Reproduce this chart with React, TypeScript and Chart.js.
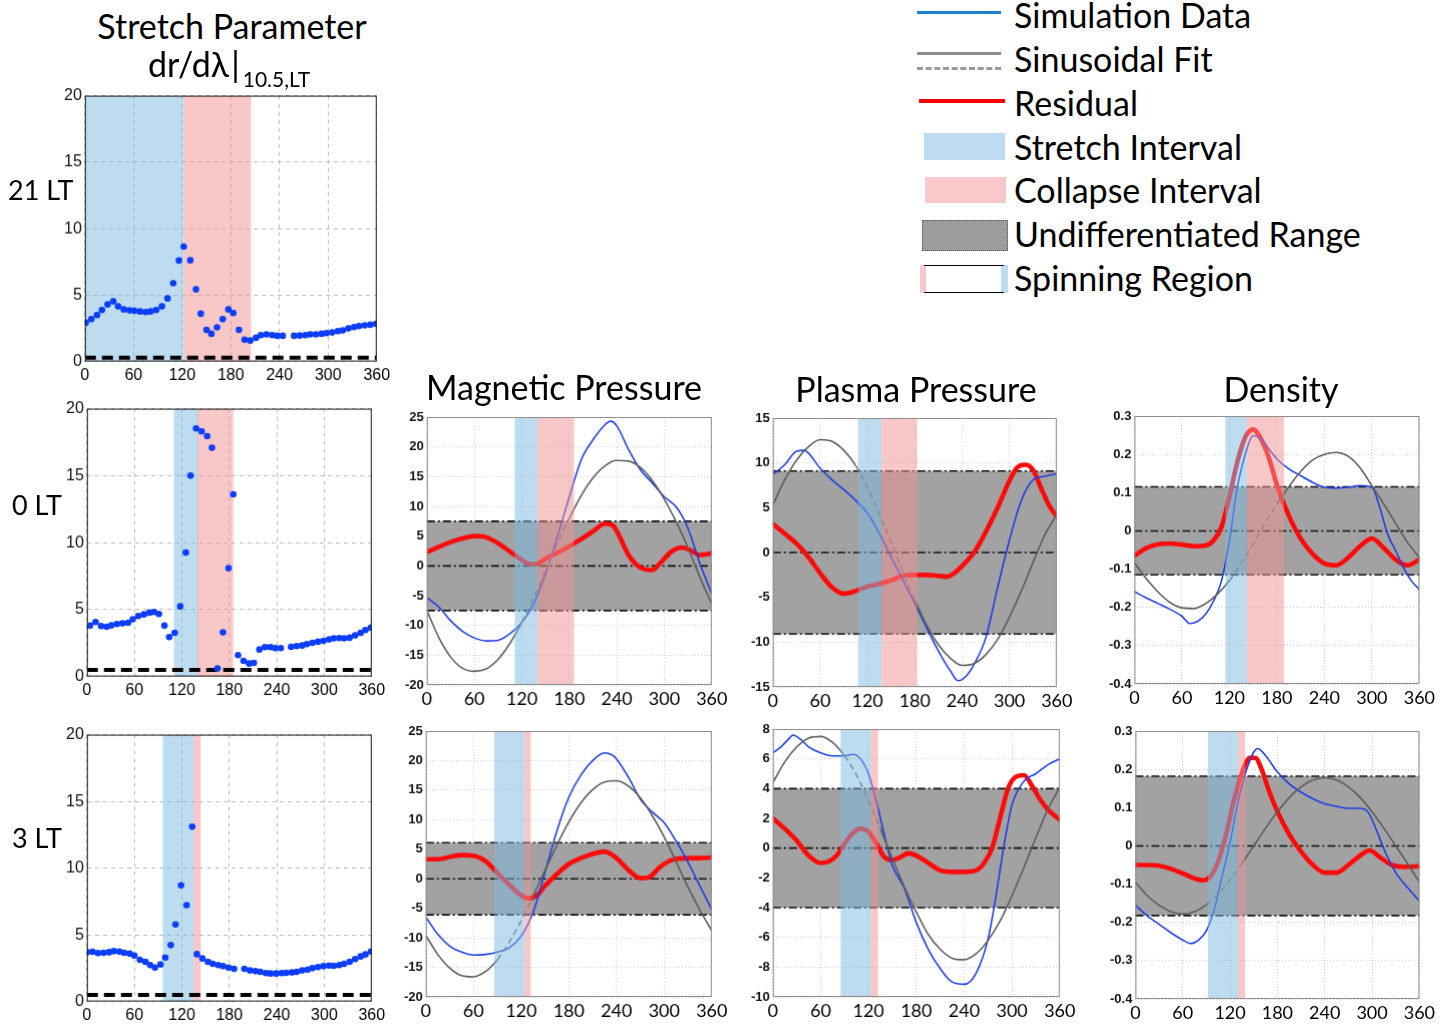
import React, { useEffect, useRef } from 'react';
import { Chart, registerables } from 'chart.js';
Chart.register(...registerables);

// ---------------- data ----------------
// Stretch parameter dr/dλ (dots)
const DR21_X = [1,8,15,21,28,35,41,48,55,61,68,75,81,88,95,102,109,116,122,130,137,143,150,156,163,170,177,183,190,197,204,211,217,224,231,237,244,258,265,272,278,285,292,298,305,312,318,325,332,338,345,352,359];
const DR21_Y = [2.92,3.19,3.5,3.87,4.3,4.53,4.15,3.92,3.85,3.82,3.77,3.72,3.77,3.87,4.15,4.75,5.89,7.6,8.65,7.62,5.43,3.6,2.39,2.09,2.57,3.19,3.92,3.65,2.39,1.64,1.58,1.79,1.99,2.04,1.99,1.94,1.94,1.94,1.96,1.99,2.04,2.04,2.09,2.14,2.19,2.29,2.34,2.49,2.59,2.67,2.72,2.77,2.84];
const DR0_X = [4,11,18,25,31,38,45,52,58,65,72,79,85,91,98,104,111,118,125,131,138,145,152,158,165,172,179,185,191,198,205,211,218,225,232,238,245,258,265,272,278,285,292,299,306,312,319,325,332,339,346,352,359];
const DR0_Y = [3.8,4.07,3.77,3.72,3.82,3.92,3.97,4.02,4.27,4.52,4.64,4.77,4.82,4.67,3.8,2.95,3.27,5.24,9.26,15.0,18.53,18.3,17.95,17.08,0.6,3.3,8.09,13.6,1.6,1.17,0.97,1.02,2.02,2.2,2.2,2.12,2.12,2.22,2.27,2.32,2.42,2.52,2.6,2.67,2.77,2.85,2.87,2.85,2.9,3.07,3.27,3.47,3.65];
const DR3_X = [0,7,14,21,28,34,41,47,54,60,67,74,80,86,93,99,106,112,119,126,133,139,146,153,159,166,172,179,186,199,206,213,219,226,232,239,246,252,259,265,272,279,285,292,299,306,312,319,325,332,339,346,352,359];
const DR3_Y = [3.7,3.73,3.63,3.65,3.7,3.78,3.75,3.65,3.6,3.45,3.13,2.98,2.73,2.55,2.78,3.3,4.23,5.78,8.71,7.23,13.1,3.55,3.23,2.98,2.83,2.73,2.65,2.55,2.45,2.45,2.33,2.28,2.23,2.13,2.1,2.1,2.13,2.15,2.18,2.23,2.33,2.4,2.5,2.58,2.65,2.7,2.68,2.73,2.83,2.98,3.18,3.38,3.53,3.75];
const THRESHOLD = [0.3, 0.5, 0.5];

// Magnetic pressure, 0 LT
const MP0_SIM = [[0,-5.3],[15,-6.9],[30,-9.2],[45,-11],[60,-12.1],[75,-12.6],[90,-12.5],[105,-11.4],[120,-9.5],[135,-6.4],[150,-1.3],[165,4.9],[180,11.6],[195,17.8],[210,21.2],[225,23.7],[232,24.3],[240,23.5],[255,19.5],[270,16.1],[285,13.9],[300,11.6],[315,9.9],[330,6.3],[345,0.4],[360,-4.7]];
const MP0_FIT = [[0,-7.5],[15,-12],[30,-15.3],[45,-17.2],[60,-17.7],[75,-17.3],[90,-15.7],[105,-13],[120,-9.5],[135,-5.3],[150,-0.8],[165,3.8],[180,8],[195,11.8],[210,14.8],[225,16.8],[240,17.7],[255,17.6],[270,16.5],[285,14.3],[300,11.2],[315,7.4],[330,3],[345,-1.9],[360,-6.4]];
const MP0_RES = [[0,2.3],[15,3.2],[30,4],[45,4.6],[60,5],[75,4.8],[90,3.8],[105,2.4],[120,1],[130,0.3],[140,0.4],[150,1.2],[165,2.2],[180,3.3],[195,4.5],[210,5.8],[225,7.1],[235,6.8],[245,4.5],[255,1.8],[270,-0.3],[285,-0.7],[295,0.5],[310,2.5],[322,3.1],[335,2.5],[345,1.8],[360,2.1]];
// Plasma pressure, 0 LT
const PP0_SIM = [[0,8.7],[15,9.8],[30,11.3],[40,11.4],[45,11.1],[60,9.4],[75,8.1],[90,7],[105,5.8],[120,4.4],[135,2.1],[150,-0.5],[165,-3.1],[180,-5.7],[195,-8.4],[210,-11],[225,-13.2],[235,-14.3],[245,-13.8],[255,-12.5],[270,-9.5],[285,-3.9],[300,1.4],[315,5.8],[330,8.1],[345,8.5],[360,8.8]];
const PP0_FIT = [[0,5.3],[15,8.1],[30,10.3],[45,11.8],[60,12.6],[75,12.4],[90,11.4],[105,9.7],[120,7.2],[135,4.3],[150,1.1],[165,-2.2],[180,-5.3],[195,-8.1],[210,-10.3],[225,-11.8],[240,-12.6],[255,-12.4],[270,-11.4],[285,-9.7],[300,-7.2],[315,-4.3],[330,-1.1],[345,2],[360,4.2]];
const PP0_RES = [[0,3.2],[15,2.1],[30,1],[45,-0.5],[60,-2.3],[75,-3.9],[90,-4.6],[105,-4.3],[120,-3.8],[135,-3.5],[150,-3.1],[165,-2.6],[180,-2.5],[195,-2.5],[210,-2.6],[220,-2.7],[230,-2.3],[240,-1.5],[255,0],[270,2.3],[285,5],[300,8],[310,9.5],[320,9.8],[330,9.2],[340,7.2],[350,5.3],[360,4]];
// Density, 0 LT
const D0_SIM = [[0,-0.159],[15,-0.175],[30,-0.19],[45,-0.205],[60,-0.223],[70,-0.242],[80,-0.236],[90,-0.218],[100,-0.183],[110,-0.131],[120,-0.026],[130,0.114],[140,0.2],[150,0.249],[160,0.24],[170,0.214],[180,0.188],[195,0.162],[210,0.144],[225,0.127],[240,0.114],[255,0.112],[270,0.114],[285,0.118],[300,0.114],[310,0.061],[320,-0.009],[330,-0.052],[340,-0.096],[350,-0.131],[360,-0.153]];
const D0_FIT = [[0,-0.083],[15,-0.125],[30,-0.16],[45,-0.187],[60,-0.201],[75,-0.203],[90,-0.19],[105,-0.165],[120,-0.13],[135,-0.085],[150,-0.035],[165,0.02],[180,0.07],[195,0.115],[210,0.155],[225,0.185],[240,0.2],[255,0.205],[270,0.195],[285,0.165],[300,0.118],[315,0.07],[330,0.02],[345,-0.03],[360,-0.07]];
const D0_RES = [[0,-0.065],[15,-0.045],[30,-0.035],[45,-0.033],[60,-0.036],[75,-0.04],[90,-0.038],[100,-0.025],[110,0.01],[120,0.09],[130,0.18],[140,0.245],[150,0.265],[160,0.24],[170,0.19],[180,0.12],[195,0.04],[210,-0.02],[225,-0.06],[240,-0.085],[255,-0.09],[270,-0.07],[285,-0.04],[300,-0.02],[315,-0.045],[330,-0.075],[345,-0.09],[360,-0.075]];
// Magnetic pressure, 3 LT
const MP3_SIM = [[0,-6.5],[15,-9.4],[30,-11.4],[45,-12.4],[60,-12.9],[75,-12.8],[90,-12.4],[105,-11.7],[120,-9.7],[135,-5.7],[150,1.1],[165,8.1],[180,13.8],[195,17.5],[210,20],[225,21.3],[235,20.9],[240,20.3],[255,17.2],[270,13.5],[285,11.3],[300,9.5],[315,6.4],[330,2.8],[345,-1.2],[360,-5.2]];
const MP3_FIT = [[0,-9.6],[15,-12.8],[30,-15.1],[45,-16.4],[60,-16.6],[75,-15.7],[90,-13.7],[105,-10.7],[120,-7.1],[135,-2.9],[150,1.4],[165,5.7],[180,9.6],[195,12.8],[210,15.1],[225,16.4],[240,16.6],[255,15.7],[270,13.7],[285,10.7],[300,7.1],[315,2.9],[330,-1.4],[345,-5.3],[360,-8.8]];
const MP3_RES = [[0,3.3],[15,3.3],[30,3.7],[45,4],[60,3.9],[75,3],[90,1],[105,-1],[120,-2.8],[130,-3.3],[140,-2.8],[150,-1.2],[165,0.8],[180,2.5],[195,3.5],[210,4.2],[225,4.6],[240,3.5],[255,1.5],[270,0.1],[280,0.2],[295,2],[310,3.2],[330,3.5],[345,3.5],[360,3.6]];
// Plasma pressure, 3 LT
const PP3_SIM = [[0,6.4],[10,6.8],[20,7.35],[25,7.6],[35,7.3],[45,6.8],[60,6.4],[75,6.2],[90,6.2],[100,6.3],[110,6],[120,5],[130,3.1],[140,0.87],[150,-1.16],[165,-2.7],[180,-5],[195,-6.8],[210,-8.1],[225,-9],[240,-9.15],[255,-8.4],[270,-6.1],[280,-3.2],[290,0.2],[300,2.9],[315,4.5],[330,5],[345,5.6],[360,6]];
const PP3_FIT = [[0,4.4],[15,5.8],[30,6.8],[45,7.4],[60,7.5],[75,7.1],[90,6.2],[105,4.9],[120,3.2],[135,1.3],[150,-0.7],[165,-2.6],[180,-4.3],[195,-5.8],[210,-6.8],[225,-7.4],[240,-7.5],[255,-7.1],[270,-6.2],[285,-4.9],[300,-3.2],[315,-1.3],[330,0.7],[345,2.6],[360,4.1]];
const PP3_RES = [[0,2],[15,1.3],[30,0.5],[45,-0.5],[60,-1],[70,-0.9],[80,-0.5],[90,0.3],[100,1],[110,1.3],[120,1.1],[130,0.3],[140,-0.6],[150,-0.8],[160,-0.6],[170,-0.35],[180,-0.5],[195,-1],[210,-1.5],[225,-1.6],[240,-1.6],[255,-1.5],[265,-1],[275,0],[285,2],[295,4],[305,4.8],[315,4.9],[325,4.2],[335,3.3],[345,2.6],[360,1.9]];
// Density, 3 LT
const D3_SIM = [[0,-0.155],[15,-0.183],[30,-0.205],[45,-0.227],[60,-0.246],[70,-0.255],[80,-0.246],[90,-0.222],[100,-0.166],[110,-0.078],[120,0.009],[130,0.114],[140,0.193],[150,0.245],[155,0.254],[165,0.236],[180,0.193],[195,0.162],[210,0.14],[225,0.123],[240,0.11],[255,0.103],[270,0.098],[285,0.098],[295,0.088],[305,0.044],[315,-0.008],[330,-0.07],[345,-0.109],[360,-0.144]];
const D3_FIT = [[0,-0.095],[15,-0.13],[30,-0.155],[45,-0.172],[60,-0.178],[75,-0.172],[90,-0.154],[105,-0.126],[120,-0.089],[135,-0.046],[150,0],[165,0.046],[180,0.089],[195,0.126],[210,0.154],[225,0.172],[240,0.178],[255,0.172],[270,0.154],[285,0.126],[300,0.089],[315,0.046],[330,0],[345,-0.046],[360,-0.095]];
const D3_RES = [[0,-0.05],[15,-0.05],[30,-0.052],[45,-0.06],[60,-0.072],[75,-0.085],[85,-0.09],[95,-0.08],[105,-0.04],[115,0.03],[125,0.12],[135,0.19],[145,0.23],[152,0.23],[160,0.2],[170,0.14],[180,0.09],[195,0.03],[210,-0.015],[225,-0.05],[240,-0.07],[255,-0.07],[270,-0.05],[285,-0.025],[297,-0.012],[310,-0.03],[325,-0.05],[340,-0.055],[360,-0.053]];

// intervals [start, end] in degrees
const STRETCH = { dr21: [0, 122], dr0: [110, 141], dr3: [96, 135], mp0: [111, 140], pp0: [108, 138], d0: [115, 142], mp3: [86, 124], pp3: [85, 123], d3: [92, 130] };
const COLLAPSE = { dr21: [122, 205], dr0: [140, 185], dr3: [135, 144], mp0: [140, 186], pp0: [138, 183], d0: [142, 189], mp3: [124, 132], pp3: [123, 132], d3: [130, 139] };
const FIT_DASH = { mp0: [115, 182], pp0: [108, 187], d0: [118, 186], mp3: [88, 130], pp3: [88, 130], d3: [95, 140] };
const UNDIFF = { mp0: 7.5, pp0: 9.1, d0: 0.115, mp3: 6.1, pp3: 4.0, d3: 0.182 };

const X_TICKS = { min: 0, max: 360, step: 60 };

// ---------------- drawing ----------------
const LABEL_FONT = 'Lato, "Open Sans", sans-serif';
const STRETCH_COLOR = 'rgba(125,185,225,0.5)';
const COLLAPSE_COLOR = 'rgba(241,145,145,0.5)';

type Box = [number, number, number, number];
interface Spec {
  box: Box;
  kind: 'dots' | 'lines';
  yMin: number; yMax: number; yStep: number;
  stretch: number[]; collapse: number[];
  dotsX?: number[]; dotsY?: number[]; threshold?: number;
  sim?: number[][]; fit?: number[][]; res?: number[][];
  undiff?: number; fitDash?: number[];
}

function drawIntervals(chart: any, spec: Spec) {
  const { ctx, chartArea: a, scales } = chart;
  const x = scales.x;
  ctx.save();
  ctx.beginPath();
  ctx.rect(a.left, a.top, a.right - a.left, a.bottom - a.top);
  ctx.clip();
  const s0 = x.getPixelForValue(spec.stretch[0]);
  const s1 = x.getPixelForValue(spec.stretch[1]);
  ctx.fillStyle = STRETCH_COLOR;
  ctx.fillRect(s0, a.top, s1 - s0, a.bottom - a.top);
  const c0 = x.getPixelForValue(spec.collapse[0]);
  const c1 = x.getPixelForValue(spec.collapse[1]);
  ctx.fillStyle = COLLAPSE_COLOR;
  ctx.fillRect(c0, a.top, c1 - c0, a.bottom - a.top);
  ctx.restore();
}

const panelPlugin = {
  id: 'panelDeco',
  beforeDatasetsDraw(chart: any, _args: any, opts: any) {
    const spec: Spec = opts.spec;
    if (!spec) return;
    const { ctx, chartArea: a, scales } = chart;
    if (spec.kind === 'dots') {
      drawIntervals(chart, spec);
      return;
    }
    const y = scales.y;
    const u = spec.undiff as number;
    const y1 = y.getPixelForValue(u);
    const y2 = y.getPixelForValue(-u);
    ctx.save();
    ctx.fillStyle = '#a2a2a2';
    ctx.fillRect(a.left, y1, a.right - a.left, y2 - y1);
    ctx.strokeStyle = '#111';
    ctx.lineWidth = 1.6;
    ctx.setLineDash([8, 3, 2, 3]);
    for (const v of [u, 0, -u]) {
      const py = y.getPixelForValue(v);
      ctx.beginPath();
      ctx.moveTo(a.left, py);
      ctx.lineTo(a.right, py);
      ctx.stroke();
    }
    ctx.restore();
  },
  afterDatasetsDraw(chart: any, _args: any, opts: any) {
    const spec: Spec = opts.spec;
    if (!spec) return;
    if (spec.kind === 'lines') drawIntervals(chart, spec);
  },
  afterDraw(chart: any, _args: any, opts: any) {
    const spec: Spec = opts.spec;
    if (!spec) return;
    const { ctx, chartArea: a } = chart;
    ctx.save();
    ctx.strokeStyle = spec.kind === 'dots' ? '#1a1a1a' : '#8a8a8a';
    ctx.lineWidth = 1;
    ctx.strokeRect(a.left + 0.5, a.top + 0.5, a.right - a.left - 1, a.bottom - a.top - 1);
    ctx.restore();
  },
};

function fmt(v: number) {
  return String(Number(v.toFixed(2)));
}

function buildConfig(spec: Spec): any {
  const dots = spec.kind === 'dots';
  const datasets: any[] = [];
  if (dots) {
    const xs = spec.dotsX as number[];
    const ys = spec.dotsY as number[];
    datasets.push({
      data: xs.map((x, i) => ({ x, y: ys[i] })),
      showLine: false,
      pointRadius: 3.3,
      pointBackgroundColor: '#0b3dfb',
      pointBorderWidth: 0,
    });
    datasets.push({
      data: [{ x: 0, y: spec.threshold }, { x: 360, y: spec.threshold }],
      borderColor: '#000',
      borderWidth: 4,
      borderDash: [11, 6],
      pointRadius: 0,
    });
  } else {
    const fd = spec.fitDash as number[];
    const inDash = (c: any) => {
      const m = (c.p0.parsed.x + c.p1.parsed.x) / 2;
      return m > fd[0] && m < fd[1];
    };
    datasets.push({
      data: (spec.fit as number[][]).map(([x, y]) => ({ x, y })),
      borderColor: '#5e5e5e',
      borderWidth: 1.6,
      pointRadius: 0,
      cubicInterpolationMode: 'monotone',
      segment: {
        borderDash: (c: any) => (inDash(c) ? [6, 4] : undefined),
        borderColor: (c: any) => (inDash(c) ? '#707070' : undefined),
      },
    });
    datasets.push({
      data: (spec.sim as number[][]).map(([x, y]) => ({ x, y })),
      borderColor: '#1f3fe6',
      borderWidth: 1.6,
      pointRadius: 0,
      cubicInterpolationMode: 'monotone',
    });
    datasets.push({
      data: (spec.res as number[][]).map(([x, y]) => ({ x, y })),
      borderColor: '#ff0a0a',
      borderWidth: 4.6,
      pointRadius: 0,
      cubicInterpolationMode: 'monotone',
      borderCapStyle: 'round',
    });
  }
  const gridColor = dots ? '#b9b9b9' : '#cdcdcd';
  const gridDash = dots ? [4, 4] : [1, 2];
  return {
    type: 'line',
    data: { datasets },
    options: {
      animation: false,
      responsive: false,
      maintainAspectRatio: false,
      events: [],
      layout: { padding: { top: 12, right: 26, left: 2, bottom: 2 } },
      plugins: {
        legend: { display: false },
        tooltip: { enabled: false },
        panelDeco: { spec },
      },
      scales: {
        x: {
          type: 'linear',
          min: X_TICKS.min,
          max: X_TICKS.max,
          ticks: {
            stepSize: X_TICKS.step,
            autoSkip: false,
            maxRotation: 0,
            minRotation: 0,
            color: '#000',
            padding: dots ? 4 : 3,
            font: dots
              ? { family: '"Liberation Sans", Arial, sans-serif', size: 16 }
              : { family: LABEL_FONT, size: 18 },
          },
          grid: { color: gridColor, drawTicks: false, lineWidth: 1 },
          border: { display: false, dash: gridDash },
        },
        y: {
          type: 'linear',
          min: spec.yMin,
          max: spec.yMax,
          ticks: {
            stepSize: spec.yStep,
            autoSkip: false,
            color: '#111',
            padding: 3,
            callback: (v: number) => fmt(v),
            font: dots
              ? { family: '"Liberation Sans", Arial, sans-serif', size: 16 }
              : { family: '"Liberation Sans", Arial, sans-serif', size: 13, weight: 'bold' },
          },
          grid: { color: gridColor, drawTicks: false, lineWidth: 1 },
          border: { display: false, dash: gridDash },
        },
      },
    },
    plugins: [panelPlugin],
  };
}

function Panel({ spec }: { spec: Spec }) {
  const wrapRef = useRef<HTMLDivElement>(null);
  const canvasRef = useRef<HTMLCanvasElement>(null);
  useEffect(() => {
    const canvas = canvasRef.current as HTMLCanvasElement;
    const wrap = wrapRef.current as HTMLDivElement;
    const [L, T, R, B] = spec.box;
    const w0 = R - L + 80;
    const h0 = B - T + 50;
    canvas.width = w0;
    canvas.height = h0;
    canvas.style.width = w0 + 'px';
    canvas.style.height = h0 + 'px';
    const chart = new Chart(canvas, buildConfig(spec));
    for (let k = 0; k < 3; k++) {
      const ca = chart.chartArea;
      const dw = (R - L) - (ca.right - ca.left);
      const dh = (B - T) - (ca.bottom - ca.top);
      if (Math.abs(dw) < 0.01 && Math.abs(dh) < 0.01) break;
      chart.resize(chart.width + dw, chart.height + dh);
    }
    const ca = chart.chartArea;
    wrap.style.left = L - ca.left + 'px';
    wrap.style.top = T - ca.top + 'px';
    return () => chart.destroy();
  }, [spec]);
  return (
    <div ref={wrapRef} style={{ position: 'absolute', left: 0, top: 0 }}>
      <canvas ref={canvasRef} />
    </div>
  );
}

const SPECS: Spec[] = [
  { box: [85, 96, 376, 361], kind: 'dots', yMin: 0, yMax: 20, yStep: 5, stretch: STRETCH.dr21, collapse: COLLAPSE.dr21, dotsX: DR21_X, dotsY: DR21_Y, threshold: THRESHOLD[0] },
  { box: [87, 409, 371, 676], kind: 'dots', yMin: 0, yMax: 20, yStep: 5, stretch: STRETCH.dr0, collapse: COLLAPSE.dr0, dotsX: DR0_X, dotsY: DR0_Y, threshold: THRESHOLD[1] },
  { box: [87, 735, 371, 1001], kind: 'dots', yMin: 0, yMax: 20, yStep: 5, stretch: STRETCH.dr3, collapse: COLLAPSE.dr3, dotsX: DR3_X, dotsY: DR3_Y, threshold: THRESHOLD[2] },
  { box: [427, 417, 711, 684], kind: 'lines', yMin: -20, yMax: 25, yStep: 5, stretch: STRETCH.mp0, collapse: COLLAPSE.mp0, sim: MP0_SIM, fit: MP0_FIT, res: MP0_RES, undiff: UNDIFF.mp0, fitDash: FIT_DASH.mp0 },
  { box: [773, 418, 1056, 686], kind: 'lines', yMin: -15, yMax: 15, yStep: 5, stretch: STRETCH.pp0, collapse: COLLAPSE.pp0, sim: PP0_SIM, fit: PP0_FIT, res: PP0_RES, undiff: UNDIFF.pp0, fitDash: FIT_DASH.pp0 },
  { box: [1134, 416, 1419, 683], kind: 'lines', yMin: -0.4, yMax: 0.3, yStep: 0.1, stretch: STRETCH.d0, collapse: COLLAPSE.d0, sim: D0_SIM, fit: D0_FIT, res: D0_RES, undiff: UNDIFF.d0, fitDash: FIT_DASH.d0 },
  { box: [426, 731, 711, 996], kind: 'lines', yMin: -20, yMax: 25, yStep: 5, stretch: STRETCH.mp3, collapse: COLLAPSE.mp3, sim: MP3_SIM, fit: MP3_FIT, res: MP3_RES, undiff: UNDIFF.mp3, fitDash: FIT_DASH.mp3 },
  { box: [773, 729, 1059, 996], kind: 'lines', yMin: -10, yMax: 8, yStep: 2, stretch: STRETCH.pp3, collapse: COLLAPSE.pp3, sim: PP3_SIM, fit: PP3_FIT, res: PP3_RES, undiff: UNDIFF.pp3, fitDash: FIT_DASH.pp3 },
  { box: [1135, 731, 1419, 998], kind: 'lines', yMin: -0.4, yMax: 0.3, yStep: 0.1, stretch: STRETCH.d3, collapse: COLLAPSE.d3, sim: D3_SIM, fit: D3_FIT, res: D3_RES, undiff: UNDIFF.d3, fitDash: FIT_DASH.d3 },
];

function Label({ text, x, y, size, align = 'left' }: { text: React.ReactNode; x: number; y: number; size: number; align?: 'left' | 'center' }) {
  return (
    <div
      style={{
        position: 'absolute',
        left: x,
        top: y,
        fontSize: size,
        lineHeight: 1,
        whiteSpace: 'nowrap',
        color: '#000',
        transform: align === 'center' ? 'translate(-50%,-50%)' : 'translateY(-50%)',
      }}
    >
      {text}
    </div>
  );
}

const LEGEND_LABELS = ['Simulation Data', 'Sinusoidal Fit', 'Residual', 'Stretch Interval', 'Collapse Interval', 'Undifferentiated Range', 'Spinning Region'];
const LEGEND_Y = [15, 59, 103, 147, 190, 234, 278];

function Legend() {
  const abs = (s: React.CSSProperties): React.CSSProperties => ({ position: 'absolute', ...s });
  return (
    <>
      <div style={abs({ left: 917, top: 11, width: 84, height: 3, background: '#1f7fcf' })} />
      <div style={abs({ left: 917, top: 52, width: 84, height: 3, background: '#8c8c8c' })} />
      <div style={abs({ left: 917, top: 67, width: 84, height: 0, borderTop: '3px dashed #9a9a9a' })} />
      <div style={abs({ left: 919, top: 99, width: 86, height: 4, background: '#ff0000' })} />
      <div style={abs({ left: 924, top: 133, width: 81, height: 27, background: 'rgb(190,220,240)' })} />
      <div style={abs({ left: 925, top: 177, width: 81, height: 26, background: 'rgb(248,200,202)' })} />
      <div style={abs({ left: 922, top: 220, width: 86, height: 31, background: '#9c9c9c', boxSizing: 'border-box', border: '1px dotted #555' })} />
      <div style={abs({ left: 920, top: 265, width: 6, height: 28, background: 'rgb(248,200,202)' })} />
      <div style={abs({ left: 1001, top: 265, width: 7, height: 28, background: 'rgb(190,220,240)' })} />
      <div style={abs({ left: 924, top: 265, width: 80, height: 28, boxSizing: 'border-box', borderTop: '1.5px solid #000', borderBottom: '1.5px solid #000' })} />
      {LEGEND_LABELS.map((t, i) => (
        <Label key={t} text={t} x={1014} y={LEGEND_Y[i]} size={34} />
      ))}
    </>
  );
}

export default function App() {
  return (
    <div
      style={{
        position: 'absolute',
        left: 0,
        top: 0,
        width: 1450,
        height: 1026,
        background: '#fff',
        overflow: 'hidden',
        fontFamily: LABEL_FONT,
      }}
    >
      {SPECS.map((s, i) => (
        <Panel key={i} spec={s} />
      ))}
      <Label text="Stretch Parameter" x={232} y={26} size={34} align="center" />
      <div style={{ position: 'absolute', left: 148, top: 47, fontSize: 34, lineHeight: 1, whiteSpace: 'nowrap' }}>
        dr/dλ<span style={{ marginLeft: 2 }}>|</span>
        <span style={{ fontSize: 21, position: 'relative', top: 10, marginLeft: 3 }}>10.5,LT</span>
      </div>
      <Label text="21 LT" x={8} y={189} size={27} />
      <Label text="0 LT" x={12} y={504} size={27} />
      <Label text="3 LT" x={12} y={837} size={27} />
      <Label text="Magnetic Pressure" x={564} y={387} size={34} align="center" />
      <Label text="Plasma Pressure" x={916} y={389} size={34} align="center" />
      <Label text="Density" x={1281} y={389} size={34} align="center" />
      <Legend />
    </div>
  );
}
